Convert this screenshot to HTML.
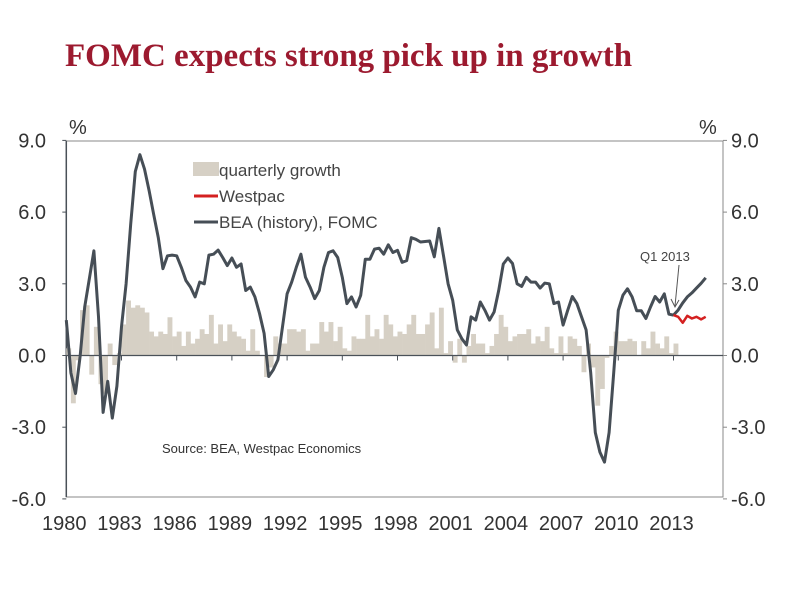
<!DOCTYPE html>
<html><head><meta charset="utf-8"><style>
html,body{margin:0;padding:0;background:#fff;}
svg{display:block;font-family:"Liberation Sans",sans-serif;}
</style></head><body>
<svg id="chart" width="806" height="601" viewBox="0 0 806 601">
<text x="65" y="66" font-family="Liberation Serif,serif" font-weight="bold" font-size="33" fill="#9c1a2f">FOMC expects strong pick up in growth</text>
<g id="plot"></g>
</svg>
<script>
const yTicks=[9,6,3,0,-3,-6];
const yTickLabels=["9.0","6.0","3.0","0.0","-3.0","-6.0"];
const xTickYears=[1980,1983,1986,1989,1992,1995,1998,2001,2004,2007,2010,2013];
const xTickLabels=["1980","1983","1986","1989","1992","1995","1998","2001","2004","2007","2010","2013"];
const barValues=[0.3,-2.0,-0.2,1.9, 2.1,-0.8,1.2,-1.2, -1.6,0.5,-0.4,0.1, 1.3,2.3,2.0,2.1, 2.0,1.8,1.0,0.8, 1.0,0.9,1.6,0.8, 1.0,0.4,1.0,0.5, 0.7,1.1,0.9,1.7, 0.5,1.3,0.6,1.3, 1.0,0.8,0.7,0.2, 1.1,0.2,0.0,-0.9, -0.5,0.8,0.5,0.5, 1.1,1.1,1.0,1.1, 0.2,0.5,0.5,1.4, 1.0,1.4,0.6,1.2, 0.3,0.2,0.8,0.7, 0.7,1.7,0.8,1.1, 0.7,1.7,1.3,0.8, 1.0,0.9,1.3,1.7, 0.9,0.9,1.3,1.8, 0.3,2.0,0.1,0.6, -0.3,0.7,-0.3,0.4, 0.9,0.5,0.5,0.1, 0.4,0.9,1.7,1.2, 0.6,0.8,0.9,0.9, 1.1,0.5,0.8,0.6, 1.2,0.3,0.1,0.8, 0.1,0.8,0.7,0.4, -0.7,0.5,-0.5,-2.1, -1.4,-0.1,0.4,1.0, 0.6,0.6,0.7,0.6, 0.0,0.6,0.3,1.0, 0.5,0.3,0.8,0.1, 0.5];
const beaValues=[1.48,-0.73,-1.59,-0.04,2.03,3.2,4.38,1.62,-2.38,-1.08,-2.62,-1.28,1.2,3.0,5.5,7.7,8.4,7.8,6.9,5.9,4.93,3.63,4.17,4.2,4.17,3.69,3.14,2.86,2.45,3.07,3.0,4.2,4.24,4.41,4.1,3.76,4.08,3.69,3.83,2.72,2.86,2.45,1.76,0.93,-0.88,-0.6,-0.18,1.2,2.58,3.07,3.69,4.24,3.27,2.86,2.38,2.72,3.69,4.31,4.38,4.1,3.27,2.17,2.45,2.03,2.52,4.03,4.03,4.45,4.49,4.24,4.63,4.31,4.4,3.9,3.97,4.93,4.86,4.75,4.77,4.79,4.13,5.32,4.17,3.0,2.31,1.07,0.7,0.44,1.62,1.48,2.24,1.89,1.48,1.82,2.72,3.83,4.08,3.85,3.0,2.89,3.27,3.07,3.07,2.82,3.03,3.0,2.17,2.24,1.27,1.89,2.47,2.17,1.62,1.07,-0.72,-3.22,-4.04,-4.46,-3.22,-0.73,1.89,2.52,2.79,2.45,1.87,1.87,1.55,2.03,2.47,2.24,2.58,1.73,1.69];
const fomcValues=[1.69,1.9,2.2,2.45,2.62,2.82,3.02,3.25];
const westpacValues=[1.69,1.62,1.37,1.66,1.55,1.62,1.51,1.62];
const forecastStartQ=132;

const L=66.3,R=723,T=141,B=497,Y0=355.5,PU=23.9,PXY=18.4;
const yS=v=>Y0-v*PU;
const xQ=q=>L+q*PXY/4;
const xYear=y=>L+(y-1980)*PXY;
const NS="http://www.w3.org/2000/svg";
const g=document.getElementById('plot');
function mk(tag,attrs,parent){const e=document.createElementNS(NS,tag);for(const k in attrs)e.setAttribute(k,attrs[k]);(parent||g).appendChild(e);return e;}

const fr=mk('rect',{x:L,y:T,width:R-L,height:B-T,fill:'none',stroke:'#888',"stroke-width":1});

const la=mk('line',{x1:L,y1:T,x2:L,y2:B,stroke:'#4a5158',"stroke-width":1.5});

const bg=mk('g',{});
barValues.forEach((v,i)=>{const x0=xQ(i),w=PXY/4;const r=mk('rect',{x:x0,y:Math.min(yS(v),Y0),width:w+0.3,height:Math.abs(yS(v)-Y0),fill:'#d6d0c5'},bg);
});
const za=mk('line',{x1:L,y1:Y0,x2:R,y2:Y0,stroke:'#4a5158',"stroke-width":1.2});

xTickYears.forEach((yr,i)=>{const x=xYear(yr);
 if(i>0){const t=mk('line',{x1:x,y1:Y0,x2:x,y2:Y0+5,stroke:'#4a5158'});}
 const tx=mk('text',{x:x-2,y:530,"font-size":20,fill:'#333',"text-anchor":'middle'});tx.textContent=xTickLabels[i];
 });
yTicks.forEach((v,i)=>{const y=yS(v);
 const t1=mk('line',{x1:L-4,y1:y,x2:L,y2:y,stroke:'#4a5158'});
 const t2=mk('line',{x1:R,y1:y,x2:R+4,y2:y,stroke:'#888'});
 const a=mk('text',{x:46,y:y+7,"font-size":20,fill:'#333',"text-anchor":'end'});a.textContent=yTickLabels[i];
 
 const b=mk('text',{x:731,y:y+7,"font-size":20,fill:'#333'});b.textContent=yTickLabels[i];
 });
const p1=mk('text',{x:69,y:134,"font-size":20,fill:'#333'});p1.textContent='%';
const p2=mk('text',{x:699,y:134,"font-size":20,fill:'#333'});p2.textContent='%';
function pts(vals,start){return vals.map((v,i)=>xQ(start+i).toFixed(1)+','+yS(v).toFixed(1)).join(' ');}
const bea=mk('polyline',{points:pts(beaValues,0),fill:'none',stroke:'#464e56',"stroke-width":3,"stroke-linejoin":'round'});

const fo=mk('polyline',{points:pts(fomcValues,forecastStartQ),fill:'none',stroke:'#464e56',"stroke-width":3,"stroke-linejoin":'round'});

const wp=mk('polyline',{points:pts(westpacValues,forecastStartQ),fill:'none',stroke:'#d42020',"stroke-width":2.5,"stroke-linejoin":'round'});

const an=mk('text',{x:640,y:261,"font-size":13,fill:'#444'});an.textContent='Q1 2013';
const ar=mk('line',{x1:679,y1:265,x2:675,y2:306,stroke:'#555',"stroke-width":1});
const ah=mk('polyline',{points:'671,299 675,307 679,300',fill:'none',stroke:'#555',"stroke-width":1});
const lg=mk('g',{});
const s1=mk('rect',{x:193,y:162,width:26,height:14,fill:'#d6d0c5'},lg);
const t1=mk('text',{x:219,y:176,"font-size":17,fill:'#444'},lg);t1.textContent='quarterly growth';
const s2=mk('line',{x1:194,y1:196,x2:218,y2:196,stroke:'#d42020',"stroke-width":3},lg);
const t2=mk('text',{x:219,y:202,"font-size":17,fill:'#444'},lg);t2.textContent='Westpac';
const s3=mk('line',{x1:194,y1:222,x2:218,y2:222,stroke:'#464e56',"stroke-width":3},lg);
const t3=mk('text',{x:219,y:228,"font-size":17,fill:'#444'},lg);t3.textContent='BEA (history), FOMC';
const src=mk('text',{x:162,y:453,"font-size":13,fill:'#333'});src.textContent='Source: BEA, Westpac Economics';
</script>
</body></html>
